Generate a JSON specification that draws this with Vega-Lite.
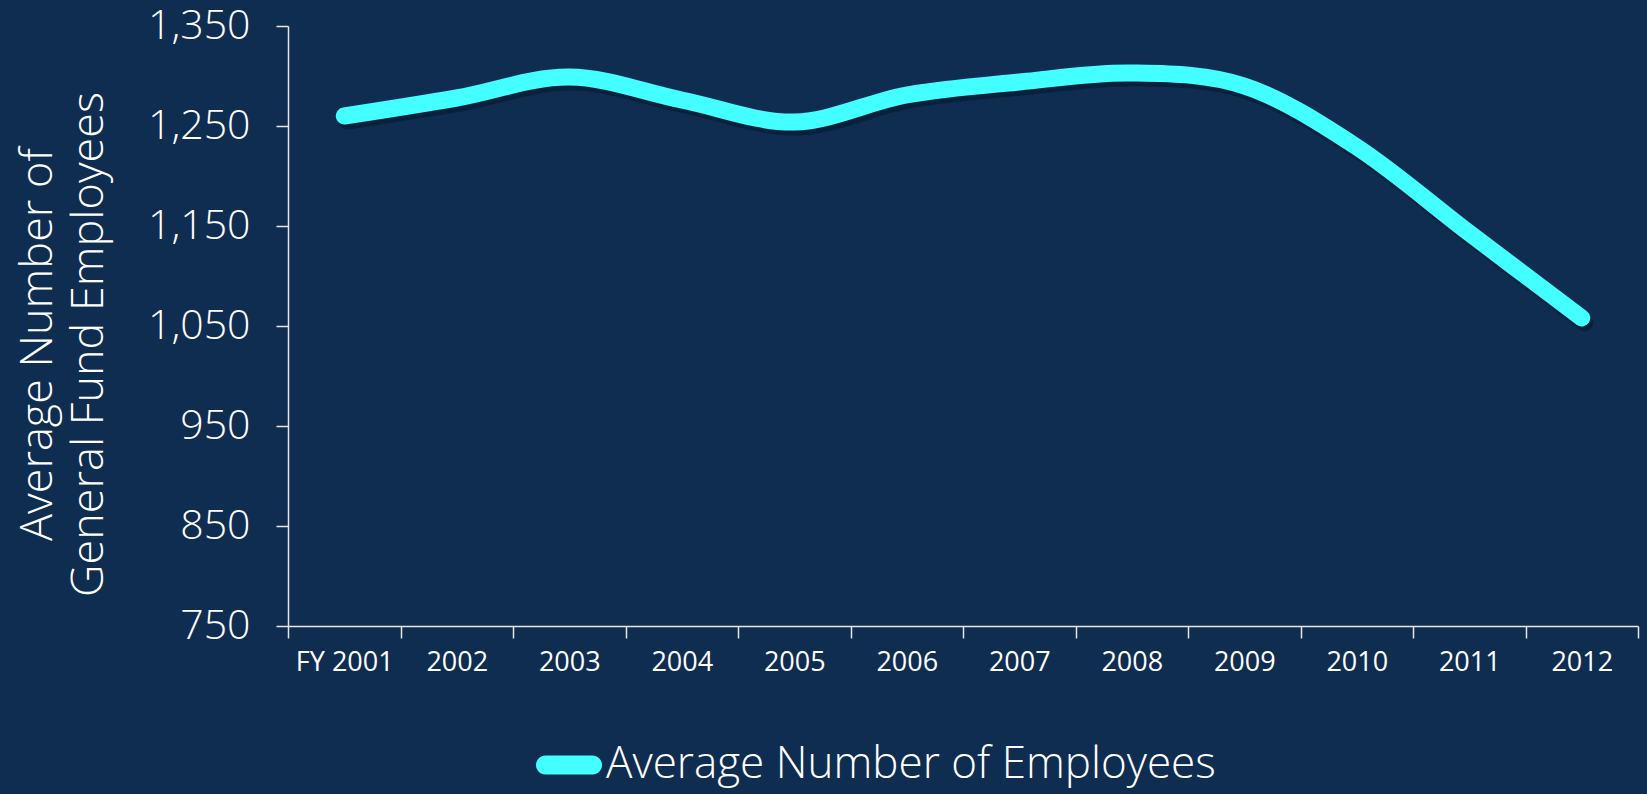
{
  "$schema": "https://vega.github.io/schema/vega-lite/v6.json",
  "width": 1350,
  "height": 600,
  "autosize": "none",
  "padding": {"left": 288, "top": 26, "right": 9, "bottom": 168},
  "background": "#0f2d50",
  "config": {
    "view": {"stroke": null},
    "axis": {"grid": false, "domainColor": "#e6e6e6", "tickColor": "#e6e6e6", "labelColor": "#ffffff", "titleColor": "#ffffff"}
  },
  "data": {
    "values": [
      {"year": "FY 2001", "employees": 1260, "series": "Average Number of Employees"},
      {"year": "2002", "employees": 1278, "series": "Average Number of Employees"},
      {"year": "2003", "employees": 1299, "series": "Average Number of Employees"},
      {"year": "2004", "employees": 1276, "series": "Average Number of Employees"},
      {"year": "2005", "employees": 1254, "series": "Average Number of Employees"},
      {"year": "2006", "employees": 1281, "series": "Average Number of Employees"},
      {"year": "2007", "employees": 1294, "series": "Average Number of Employees"},
      {"year": "2008", "employees": 1303, "series": "Average Number of Employees"},
      {"year": "2009", "employees": 1290, "series": "Average Number of Employees"},
      {"year": "2010", "employees": 1229, "series": "Average Number of Employees"},
      {"year": "2011", "employees": 1143, "series": "Average Number of Employees"},
      {"year": "2012", "employees": 1058, "series": "Average Number of Employees"}
    ]
  },
  "encoding": {
    "x": {
      "field": "year", "type": "nominal", "sort": null, "bandPosition": 0.5,
      "scale": {"type": "band", "paddingInner": 0, "paddingOuter": 0},
      "axis": {"title": null, "labelAngle": 0, "tickBand": "extent", "tickSize": 12, "tickWidth": 1.5, "domainWidth": 1.5,
               "labelFont": "Open Sans", "labelFontSize": 27, "labelPadding": 11}
    },
    "y": {
      "field": "employees", "type": "quantitative",
      "scale": {"domain": [750, 1350], "nice": false, "zero": false},
      "axis": {"values": [750, 850, 950, 1050, 1150, 1250, 1350], "format": ",d", "tickSize": 12, "tickWidth": 1.5, "domainWidth": 1.5,
               "labelFont": "Open Sans", "labelFontWeight": 300, "labelFontSize": 41, "labelPadding": 26,
               "title": ["Average Number of", "General Fund Employees"],
               "titleFont": "Open Sans", "titleFontWeight": 300, "titleFontSize": 45, "titleLineHeight": 51,
               "titleAngle": -90, "titleX": -273, "titleY": 318, "titleAlign": "center", "titleBaseline": "top"}
    }
  },
  "layer": [
    {
      "mark": {"type": "line", "interpolate": "cardinal", "strokeWidth": 17, "strokeCap": "round", "strokeJoin": "round", "color": "#000814", "opacity": 0.3, "xOffset": 3, "yOffset": 5}
    },
    {
      "mark": {"type": "line", "interpolate": "cardinal", "strokeWidth": 17, "strokeCap": "round", "strokeJoin": "round"},
      "encoding": {
        "color": {
          "field": "series", "type": "nominal",
          "scale": {"range": ["#44ffff"]},
          "legend": {
            "title": null, "orient": "none", "legendX": 248, "legendY": 706,
            "labelFont": "Open Sans", "labelFontWeight": 300, "labelFontSize": 44, "labelColor": "#ffffff", "labelOffset": 4, "labelLimit": 0,
            "symbolType": "M-0.71,-0.29L0.71,-0.29A0.29,0.29 0 0 1 0.71,0.29L-0.71,0.29A0.29,0.29 0 0 1 -0.71,-0.29Z",
            "symbolSize": 4356, "symbolStrokeWidth": 0, "symbolFillColor": "#44ffff", "symbolOpacity": 1,
            "encode": {"symbols": {"update": {"fill": {"value": "#44ffff"}, "stroke": {"value": "transparent"}, "strokeWidth": {"value": 0}}}}
          }
        }
      }
    }
  ]
}
